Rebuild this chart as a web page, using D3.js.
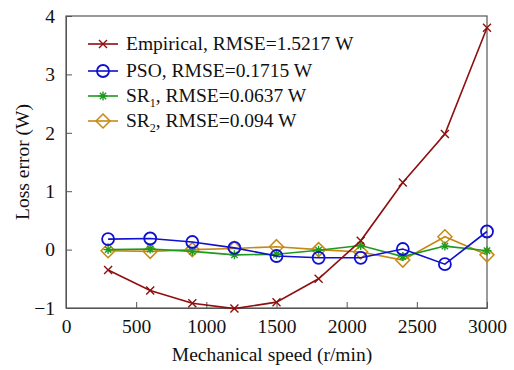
<!DOCTYPE html>
<html>
<head>
<meta charset="utf-8">
<script src="https://cdn.jsdelivr.net/npm/d3@7"></script>
<style>
  html, body { margin: 0; padding: 0; background: #fff; }
</style>
</head>
<body>
<svg id="chart" width="514" height="370"></svg>
<script>
// Mechanical speed sampling points (r/min)
const speeds = [300, 600, 900, 1200, 1500, 1800, 2100, 2400, 2700, 3000];

// Loss error of each model (W)
const empirical = [-0.35, -0.70, -0.92, -1.01, -0.90, -0.50, 0.15, 1.15, 1.98, 3.80];
const pso       = [0.18, 0.19, 0.13, 0.03, -0.11, -0.14, -0.14, 0.01, -0.25, 0.31];
const sr1       = [0.00, 0.01, -0.03, -0.09, -0.08, -0.01, 0.07, -0.12, 0.06, -0.02];
const sr2       = [-0.02, -0.03, 0.00, 0.02, 0.05, 0.00, -0.04, -0.18, 0.22, -0.09];

const xTicks = [0, 500, 1000, 1500, 2000, 2500, 3000];
const yTicks = [-1, 0, 1, 2, 3, 4];

const series = [
  { name: "Empirical", sub: null, rmse: "1.5217", values: empirical, color: "#8f0f0f", marker: "x" },
  { name: "PSO", sub: null, rmse: "0.1715", values: pso, color: "#1010d0", marker: "circle" },
  { name: "SR", sub: "1", rmse: "0.0637", values: sr1, color: "#1f9a1f", marker: "star" },
  { name: "SR", sub: "2", rmse: "0.094", values: sr2, color: "#c68a14", marker: "diamond" }
];

const FONT = "'Liberation Serif', 'Times New Roman', Tinos, serif";
const FS = 19.5;

const svg = d3.select("#chart").attr("font-family", FONT);
const m = { left: 66, right: 487, top: 16, bottom: 308 };

const x = d3.scaleLinear().domain([0, 3000]).range([m.left, m.right]);
const y = d3.scaleLinear().domain([-1, 4]).range([m.bottom, m.top]);

// Frame
svg.append("rect")
  .attr("x", m.left).attr("y", m.top)
  .attr("width", m.right - m.left).attr("height", m.bottom - m.top)
  .attr("fill", "none").attr("stroke", "#555").attr("stroke-width", 1.2);

// Axes with inward ticks
const xAxis = svg.append("g")
  .attr("transform", `translate(0,${m.bottom})`)
  .call(d3.axisBottom(x).tickValues(xTicks).tickFormat(d3.format("d")).tickSizeInner(-6).tickSizeOuter(0).tickPadding(11));
xAxis.attr("font-family", FONT).attr("font-size", FS);
xAxis.select(".domain").attr("stroke", "#555");
xAxis.selectAll(".tick line").attr("stroke", "#555");
xAxis.selectAll("text").attr("fill", "#111");

const yAxis = svg.append("g")
  .attr("transform", `translate(${m.left},0)`)
  .call(d3.axisLeft(y).tickValues(yTicks).tickFormat(d => d < 0 ? "\u2212" + Math.abs(d) : d).tickSizeInner(-6).tickSizeOuter(0).tickPadding(11));
yAxis.attr("font-family", FONT).attr("font-size", FS);
yAxis.select(".domain").attr("stroke", "#555");
yAxis.selectAll(".tick line").attr("stroke", "#555");
yAxis.selectAll("text").attr("fill", "#111");

// Axis titles
svg.append("text")
  .attr("x", 272).attr("y", 361)
  .attr("text-anchor", "middle").attr("font-size", FS).attr("fill", "#111")
  .text("Mechanical speed (r/min)");

svg.append("text")
  .attr("transform", `translate(29,${(m.top + m.bottom) / 2}) rotate(-90)`)
  .attr("text-anchor", "middle").attr("font-size", FS).attr("fill", "#111")
  .text("Loss error (W)");

// Marker drawing
function drawMarker(g, type, color, cx, cy) {
  if (type === "x") {
    const s = 4;
    g.append("path").attr("d", `M${cx - s},${cy - s}L${cx + s},${cy + s}M${cx - s},${cy + s}L${cx + s},${cy - s}`)
      .attr("stroke", color).attr("stroke-width", 1.4).attr("fill", "none");
  } else if (type === "circle") {
    g.append("circle").attr("cx", cx).attr("cy", cy).attr("r", 6)
      .attr("stroke", color).attr("stroke-width", 1.8).attr("fill", "none");
  } else if (type === "star") {
    const s = 4.5;
    g.append("path").attr("d",
      `M${cx - s},${cy}L${cx + s},${cy}M${cx},${cy - s}L${cx},${cy + s}` +
      `M${cx - s * 0.7},${cy - s * 0.7}L${cx + s * 0.7},${cy + s * 0.7}M${cx - s * 0.7},${cy + s * 0.7}L${cx + s * 0.7},${cy - s * 0.7}`)
      .attr("stroke", color).attr("stroke-width", 1.4).attr("fill", "none");
  } else if (type === "diamond") {
    const s = 7;
    g.append("path").attr("d", `M${cx},${cy - s}L${cx + s},${cy}L${cx},${cy + s}L${cx - s},${cy}Z`)
      .attr("stroke", color).attr("stroke-width", 1.5).attr("fill", "none");
  }
}

const line = d3.line().x((d, i) => x(speeds[i])).y(d => y(d));

// Draw back to front so the empirical curve stays on top of the flat ones
const drawOrder = [3, 2, 1, 0];
drawOrder.forEach(k => {
  const s = series[k];
  const g = svg.append("g");
  g.append("path").datum(s.values).attr("d", line)
    .attr("fill", "none").attr("stroke", s.color).attr("stroke-width", 1.6);
  s.values.forEach((v, i) => drawMarker(g, s.marker, s.color, x(speeds[i]), y(v)));
});

// Legend
const legY = [44, 71, 96, 121];
series.forEach((s, k) => {
  const g = svg.append("g");
  const yy = legY[k];
  g.append("line").attr("x1", 88).attr("x2", 118).attr("y1", yy).attr("y2", yy)
    .attr("stroke", s.color).attr("stroke-width", 1.6);
  drawMarker(g, s.marker, s.color, 103, yy);
  const t = g.append("text").attr("x", 126).attr("y", yy + 6).attr("font-size", FS).attr("fill", "#111");
  t.append("tspan").text(s.name);
  if (s.sub) {
    t.append("tspan").attr("font-size", 12).attr("dy", 5).text(s.sub);
    t.append("tspan").attr("dy", -5).text(`, RMSE=${s.rmse} W`);
  } else {
    t.append("tspan").text(`, RMSE=${s.rmse} W`);
  }
});
</script>
</body>
</html>
